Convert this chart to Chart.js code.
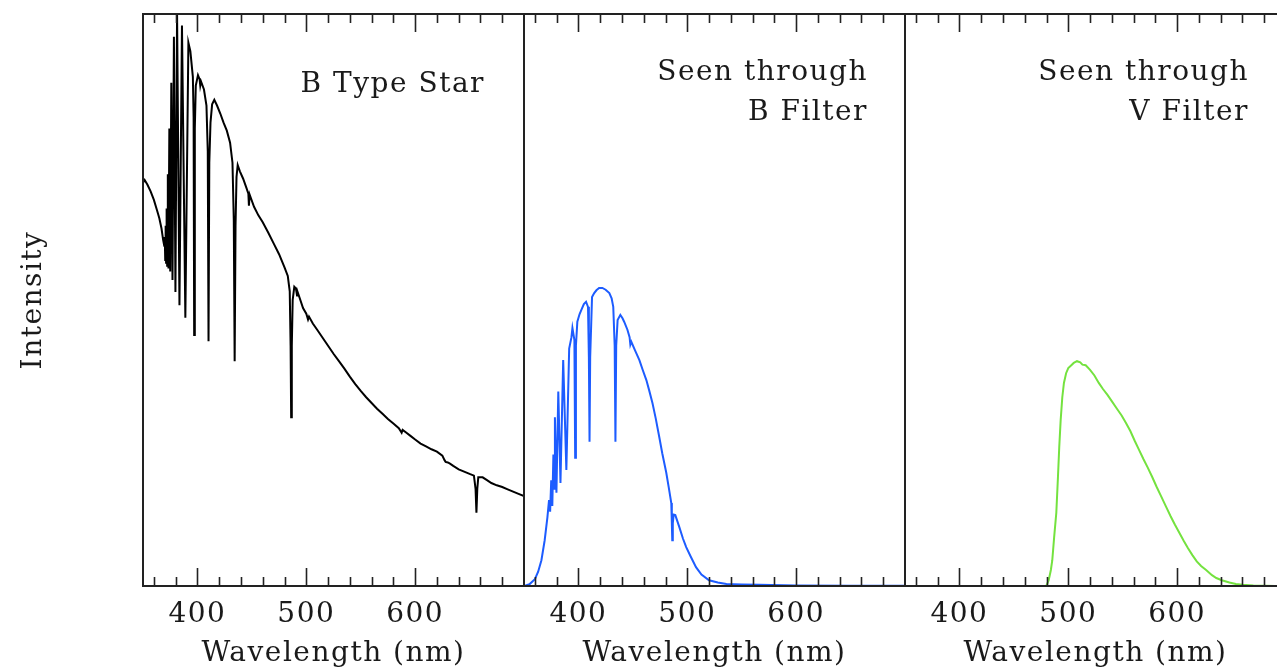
<!DOCTYPE html>
<html>
<head>
<meta charset="utf-8">
<script src="https://cdn.jsdelivr.net/npm/chart.js@4.4.1/dist/chart.umd.min.js"></script>
<style>
  html, body { margin: 0; padding: 0; background: #fff; width: 1277px; height: 668px; overflow: hidden; }
  canvas { position: absolute; top: 0; }
  #panel1 { left: 0px; }
  #panel2 { left: 518px; }
  #panel3 { left: 899px; }
</style>
</head>
<body>
<canvas id="panel1" width="530" height="686"></canvas>
<canvas id="panel2" width="393" height="686"></canvas>
<canvas id="panel3" width="393" height="686"></canvas>
<script>
// =====================
// Datos
// =====================
const etiquetasX = [400, 500, 600];

// Espectro de la estrella tipo B
const estrellaLambda = [
  350, 351.5, 354, 357, 360, 363, 365, 367, 368.5, 369.5,
  370.0, 370.4, 370.8, 371.2, 371.7, 372.2, 372.8, 373.4, 374.2, 375.0,
  376.0, 377.1, 378.4, 379.8, 381.3, 383.5, 385.8, 388.9, 391.7, 393.5,
  395.8, 396.5, 397.0, 397.6, 398.5, 400.5, 402.0, 402.6, 403.3, 406.0,
  408.3, 409.5, 410.2, 410.9, 412.0, 413.5, 415.5, 418, 421, 424,
  427, 430, 432.2, 433.4, 434.2, 435.0, 435.9, 437.0, 439, 442,
  445, 446.8, 447.3, 448, 452, 456, 460, 465, 470, 475,
  480, 483, 484.8, 485.6, 486.1, 486.7, 487.5, 489, 490.5, 491.5,
  492.2, 494, 497, 500, 501.6, 502.5, 506, 510, 515, 520,
  525, 530, 535, 540, 545, 550, 555, 560, 565, 570,
  575, 580, 585, 587.6, 588.5, 592, 596, 600, 605, 610,
  615, 620, 625, 627, 628, 630, 632, 635, 640, 645,
  650, 654, 655.5, 656.3, 657.1, 658, 662, 666, 670, 675,
  680, 685, 690, 695, 700
];
const estrellaFlujo = [
  70.5, 71.0, 70.2, 69.0, 67.5, 65.6, 64.3, 62.5, 60.5, 59.5,
  61, 57, 63, 56.5, 66, 56, 72, 55.5, 80, 55,
  88, 53.5, 96, 51.4, 100, 49.1, 98, 46.9, 95, 93.5,
  89, 82, 43.9, 80, 87.5, 89.3, 88.6, 87.5, 88.2, 86.8,
  84, 76, 42.8, 74, 81, 84.2, 85, 84, 82.6, 81,
  79.6, 77.5, 74, 64, 39.3, 63, 71.5, 73.6, 72.5, 71.2,
  69.6, 68.6, 66.5, 68.4, 66.3, 64.8, 63.6, 61.8, 59.9, 58.0,
  55.7, 54.2, 51.5, 42, 29.5, 42, 50, 52.3, 52.0, 50.8,
  51.3, 50.3, 48.6, 47.6, 46.6, 47.1, 45.9, 44.8, 43.4, 42.0,
  40.6, 39.3, 38.0, 36.6, 35.3, 34.1, 33.0, 32.0, 31.0, 30.1,
  29.2, 28.4, 27.6, 26.8, 27.3, 26.8, 26.2, 25.6, 24.9, 24.4,
  23.9, 23.5, 22.8, 22.0, 21.7, 21.6, 21.4, 21.0, 20.4, 20.0,
  19.6, 19.3, 17, 12.8, 17, 19.0, 19.0, 18.5, 18.0, 17.6,
  17.3, 16.9, 16.5, 16.1, 15.7
];

// Visto a traves del filtro B
const filtroBLambda = [
  350, 355, 360, 363, 366, 369, 371.5, 373, 374, 375,
  376, 377, 377.8, 378.4, 379.8, 381.5, 383.5, 386.0, 388.9, 391.5,
  393.6, 394.5, 396.3, 397.0, 397.7, 399.0, 401, 402.8, 405, 407,
  408.8, 409.6, 410.2, 410.8, 412.5, 414.5, 416.5, 419, 422, 425,
  428.4, 430.5, 432, 433.3, 434.0, 434.7, 436, 438.5, 440.5, 442,
  445, 447, 447.7, 448.6, 452, 456, 459, 462.4, 465, 468,
  471, 474.3, 477, 480.7, 483, 485.3, 485.8, 486.2, 486.7, 487.5,
  489, 492.7, 496, 499, 503, 508, 513, 520, 528, 536,
  550, 566, 600, 650, 700
];
const filtroBFlujo = [
  0, 0.3, 1.2, 2.5, 4.5, 8, 12, 15, 13, 18.5,
  14, 23, 17, 29.5, 16.3, 34, 18, 39.5, 20.3, 41.5,
  43.5, 45.1, 43, 22.4, 42, 46.2, 47.5, 48.3, 49.3, 49.7,
  48.8, 40, 25.2, 40, 50.5, 51.2, 51.7, 52.1, 52.1, 51.8,
  51.2, 50.3, 48.8, 42, 25.2, 42, 46.5, 47.4, 46.8, 46.2,
  44.8, 43.5, 42.2, 42.7, 41.2, 39.5, 37.8, 36, 34.2, 32,
  29.3, 26, 23.2, 19.8, 17.2, 14.5, 11, 8.0, 11, 12.5,
  12.4, 10.3, 8.3, 6.8, 5.2, 3.3, 2.0, 1.0, 0.6, 0.35,
  0.25, 0.2, 0.1, 0.05, 0.05
];

// Visto a traves del filtro V
const filtroVLambda = [
  368, 400, 450, 475, 479.8, 482, 484, 485.3, 487, 489,
  490.5, 491.7, 493, 494.5, 496, 498, 500, 502.8, 505, 508,
  511, 513, 516, 520, 524, 528, 532, 536, 540.4, 545,
  549, 553, 557, 561, 565, 569, 573, 577, 581, 585,
  590, 594, 598, 602, 606, 610, 614, 618, 622, 626.6,
  632, 636, 641, 648, 654, 660, 670, 680, 690, 700
];
const filtroVFlujo = [
  0, 0, 0, 0, 0, 1, 2.8, 4.5, 8.5, 12.8,
  19, 24.3, 29, 33, 35.5, 37.2, 38.1, 38.6, 39.0, 39.3,
  39.1, 38.7, 38.6, 37.8, 36.8, 35.5, 34.4, 33.4, 32.2, 30.9,
  29.8, 28.5, 27.1, 25.4, 23.8, 22.2, 20.7, 19.1, 17.4, 15.8,
  13.8, 12.2, 10.7, 9.3, 7.9, 6.6, 5.4, 4.3, 3.5, 2.8,
  1.9, 1.4, 1.0, 0.6, 0.35, 0.2, 0.1, 0.05, 0, 0
];

// =====================
// Estilo general
// =====================
const FUENTE = "'DejaVu Serif', serif";
const COLOR_TEXTO = "#1a1a1a";
const COLOR_MARCO = "#222";

function aPuntos(xs, ys) {
  return xs.map((x, i) => ({ x: x, y: ys[i] }));
}

// Espaciado de letras (la fuente original es mas ancha)
const pluginEspaciado = {
  id: "espaciado",
  beforeDraw(chart) {
    chart.ctx.letterSpacing = "1.5px";
  }
};

// Marco + marcas de escala hacia dentro (arriba y abajo)
const pluginMarco = {
  id: "marco",
  afterDraw(chart, args, opts) {
    const { ctx, chartArea: a, scales } = chart;
    const sx = scales.x;
    ctx.save();
    ctx.strokeStyle = COLOR_MARCO;
    ctx.lineWidth = 2;
    ctx.strokeRect(a.left, a.top, a.right - a.left, a.bottom - a.top);
    ctx.lineWidth = 1.6;
    ctx.beginPath();
    for (let v = 360; v <= 680; v += 20) {
      const px = Math.round(sx.getPixelForValue(v)) + 0.5;
      const largo = v % 100 === 0 ? 18 : 9;
      ctx.moveTo(px, a.bottom);
      ctx.lineTo(px, a.bottom - largo);
      ctx.moveTo(px, a.top);
      ctx.lineTo(px, a.top + largo);
    }
    ctx.stroke();

    // Texto del panel
    ctx.fillStyle = COLOR_TEXTO;
    ctx.font = "28px " + FUENTE;
    ctx.textAlign = "right";
    ctx.textBaseline = "alphabetic";
    (opts.lineas || []).forEach((t, i) => {
      ctx.fillText(t, a.right - opts.margen, opts.base + i * 40);
    });
    ctx.restore();
  }
};

function crearPanel(id, puntos, color, lineas, base, margen, conEjeY) {
  return new Chart(document.getElementById(id), {
    type: "line",
    data: {
      datasets: [{
        data: puntos,
        borderColor: color,
        borderWidth: 2,
        pointRadius: 0,
        tension: 0,
        fill: false
      }]
    },
    options: {
      responsive: false,
      animation: false,
      layout: { padding: { top: 14, bottom: 0, left: conEjeY ? 0 : 6, right: 6 } },
      plugins: {
        legend: { display: false },
        tooltip: { enabled: false },
        marco: { lineas: lineas, base: base, margen: margen }
      },
      scales: {
        x: {
          type: "linear",
          min: 350,
          max: 700,
          grid: { display: false, drawTicks: false },
          border: { display: false },
          afterBuildTicks: s => { s.ticks = etiquetasX.map(v => ({ value: v })); },
          afterFit: s => { s.height = 100; },
          ticks: {
            padding: 12,
            color: COLOR_TEXTO,
            font: { family: FUENTE, size: 28 },
            maxRotation: 0,
            autoSkip: false
          },
          title: {
            display: true,
            text: "Wavelength (nm)",
            color: COLOR_TEXTO,
            font: { family: FUENTE, size: 28 },
            padding: { top: 0, bottom: 15 }
          }
        },
        y: {
          display: conEjeY,
          min: 0,
          max: 100,
          grid: { display: false, drawTicks: false },
          border: { display: false },
          ticks: { display: false },
          afterFit: s => { if (conEjeY) s.width = 143; },
          title: {
            display: conEjeY,
            text: "Intensity",
            color: COLOR_TEXTO,
            font: { family: FUENTE, size: 28 },
            padding: { top: 17, bottom: 0 }
          }
        }
      }
    },
    plugins: [pluginEspaciado, pluginMarco]
  });
}

// =====================
// Paneles
// =====================
crearPanel("panel1", aPuntos(estrellaLambda, estrellaFlujo), "#000000",
  ["B Type Star"], 92, 39, true);
crearPanel("panel2", aPuntos(filtroBLambda, filtroBFlujo), "#1d5cff",
  ["Seen through", "B Filter"], 80, 37, false);
crearPanel("panel3", aPuntos(filtroVLambda, filtroVFlujo), "#74e23f",
  ["Seen through", "V Filter"], 80, 37, false);
</script>
</body>
</html>
